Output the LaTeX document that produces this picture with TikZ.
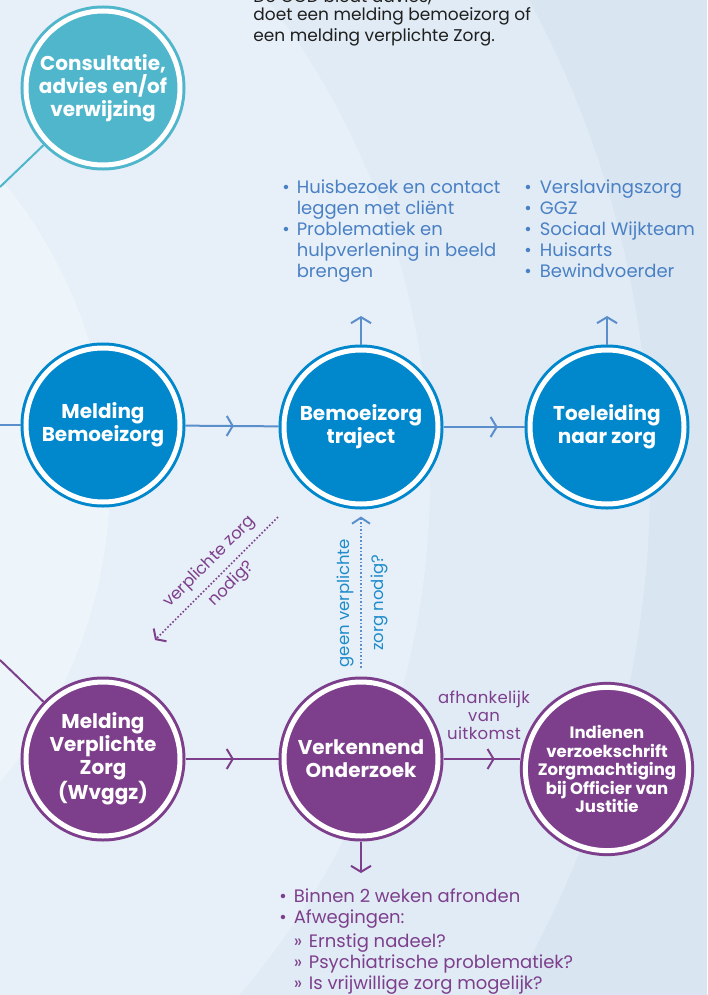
\documentclass[tikz,border=0pt]{standalone}
\usepackage{fontspec}
\setmainfont{Poppins}
\usetikzlibrary{positioning, calc, arrows.meta, decorations.markings}

\definecolor{ggdteal}{HTML}{4FB6CC}
\definecolor{ggdblue}{HTML}{0087CC}
\definecolor{ggdpurple}{HTML}{7D3F8C}
\definecolor{lineblue}{HTML}{5A8FCB}
\definecolor{listblue}{HTML}{4A80C4}
\definecolor{labelblue}{HTML}{1E8BCB}
\definecolor{bgouter}{HTML}{D9E6F1}
\definecolor{bgmid}{HTML}{E0EBF5}
\definecolor{bginner}{HTML}{E7F0F8}
\definecolor{bgcore}{HTML}{EDF4FA}

\tikzset{midarrow/.style={postaction={decorate}, decoration={markings, mark=at position #1 with {\arrow{Straight Barb[length=6pt, width=20pt]}}}}}

\begin{document}
\begin{tikzpicture}[x=1pt, y=-1pt, thick]
    % Define block styles
    \tikzstyle{bubble} = [circle, inner sep=0pt, outer sep=5.5pt, minimum size=154pt, line width=3pt, double=white, double distance=5pt, text=white, align=center, font=\bfseries\fontsize{20}{23}\selectfont]
    \tikzstyle{tealbubble} = [bubble, fill=ggdteal, draw=ggdteal]
    \tikzstyle{bluebubble} = [bubble, fill=ggdblue, draw=ggdblue]
    \tikzstyle{purplebubble} = [bubble, fill=ggdpurple, draw=ggdpurple]
    \tikzstyle{blueline} = [draw=lineblue, line width=2pt]
    \tikzstyle{purpleline} = [draw=ggdpurple, line width=2pt]
    \tikzstyle{bulletlist} = [anchor=north west, inner sep=0pt, font=\fontsize{18}{21}\selectfont]
    \tikzstyle{sidelabel} = [align=center, inner sep=0pt, font=\fontsize{16.5}{19}\selectfont]

    % Background
    \useasboundingbox (0,0) rectangle (707,995);
    \clip (0,0) rectangle (707,995);
    \fill[bgouter] (0,0) rectangle (707,995);
    \fill[bgmid] (-360,480) circle (1010);
    \fill[bginner] (-360,480) circle (790);
    \fill[bgcore] (-360,480) circle (470);

    % Place main nodes
    \node [tealbubble] (consult) at (103,88) {Consultatie,\\advies en/of\\verwijzing};
    \node [bluebubble] (meldbz) at (103,425) {Melding\\Bemoeizorg};
    \node [bluebubble] (traject) at (361,427) {Bemoeizorg\\traject};
    \node [bluebubble] (toeleid) at (607,427) {Toeleiding\\naar zorg};
    \node [purplebubble] (meldvz) at (103,759) {Melding\\Verplichte\\Zorg\\(Wvggz)};
    \node [purplebubble] (verkenn) at (361,759) {Verkennend\\Onderzoek};
    \node [purplebubble, font=\bfseries\fontsize{16.5}{18.5}\selectfont] (indien) at (607,769) {Indienen\\verzoekschrift\\Zorgmachtiging\\bij Officier van\\Justitie};

    % Free ends
    \coordinate (consin) at (0,187);
    \coordinate (bzin) at (0,425);
    \coordinate (vzin) at (0,660);
    \coordinate (trajup) at (361,316);
    \coordinate (toelup) at (607,316);
    \coordinate (verkdown) at (361,873);
    \coordinate (vzstart) at (278,517);
    \coordinate (vzend) at (155,640);

    % Texts
    \node [anchor=north west, inner sep=0pt, align=left, text=black!88, font=\fontsize{17}{21}\selectfont] (intro) at (253,-11) {De GGD biedt advies,\\[-3pt]doet een melding bemoeizorg of\\een melding verplichte Zorg.};
    \node [bulletlist, text=listblue] (trajlist) at (282,178) {\begin{tabular}{@{}l@{\hspace{7pt}}l@{}}
        • & Huisbezoek en contact\\
          & leggen met cliënt\\
        • & Problematiek en\\
          & hulpverlening in beeld\\
          & brengen
    \end{tabular}};
    \node [bulletlist, text=listblue] (toellist) at (524,178) {\begin{tabular}{@{}l@{\hspace{8pt}}l@{}}
        • & Verslavingszorg\\
        • & GGZ\\
        • & Sociaal Wijkteam\\
        • & Huisarts\\
        • & Bewindvoerder
    \end{tabular}};
    \node [bulletlist, text=ggdpurple] (verklist) at (279,887) {\begin{tabular}{@{}l@{\hspace{7pt}}l@{}}
        • & Binnen 2 weken afronden\\
        • & Afwegingen:\\[3pt]
          & »\hspace{2pt} Ernstig nadeel?\\
          & »\hspace{2pt} Psychiatrische problematiek?\\
          & »\hspace{2pt} Is vrijwillige zorg mogelijk?
    \end{tabular}};

    % Draw connections as arrows
    \draw [draw=ggdteal, line width=2pt] (consult) -- (consin);
    \draw [blueline] (meldbz) -- (bzin);
    \draw [purpleline] (meldvz) -- (vzin);
    \draw [blueline, midarrow=0.52] (meldbz) -- (traject);
    \draw [blueline, midarrow=0.67] (traject) -- (toeleid);
    \draw [purpleline, midarrow=0.52] (meldvz) -- (verkenn);
    \draw [purpleline, midarrow=0.67] (verkenn) -- (verkenn -| indien.west);
    \draw [blueline, -{Straight Barb[length=6pt, width=20pt]}] (traject) -- (trajup);
    \draw [blueline, -{Straight Barb[length=6pt, width=20pt]}] (toeleid) -- (toelup);
    \draw [purpleline, -{Straight Barb[length=6pt, width=20pt]}] (verkenn) -- (verkdown);

    % Dotted decisions
    \draw [purpleline, line width=1.6pt, dotted, -{Straight Barb[length=6pt, width=18pt, line width=2pt]}] (vzstart) -- (vzend);
    \draw [blueline, line width=1.6pt, dotted, shorten <=9pt, shorten >=7pt, -{Straight Barb[length=6pt, width=18pt, line width=2pt]}] (verkenn) -- (traject);

    % Add text on the arrows
    \node [sidelabel, rotate=45, text=ggdpurple] (vzlabel) at (221,573) {verplichte zorg\\[12pt]nodig?};
    \node [sidelabel, rotate=90, text=labelblue] (geenlabel) at (362,603) {geen verplichte\\[15pt]zorg nodig?};
    \node [sidelabel, text=ggdpurple, font=\fontsize{16.5}{18}\selectfont\addfontfeatures{LetterSpace=2}] (uitlabel) at (484,715) {afhankelijk\\van\\uitkomst};

\end{tikzpicture}
\end{document}
